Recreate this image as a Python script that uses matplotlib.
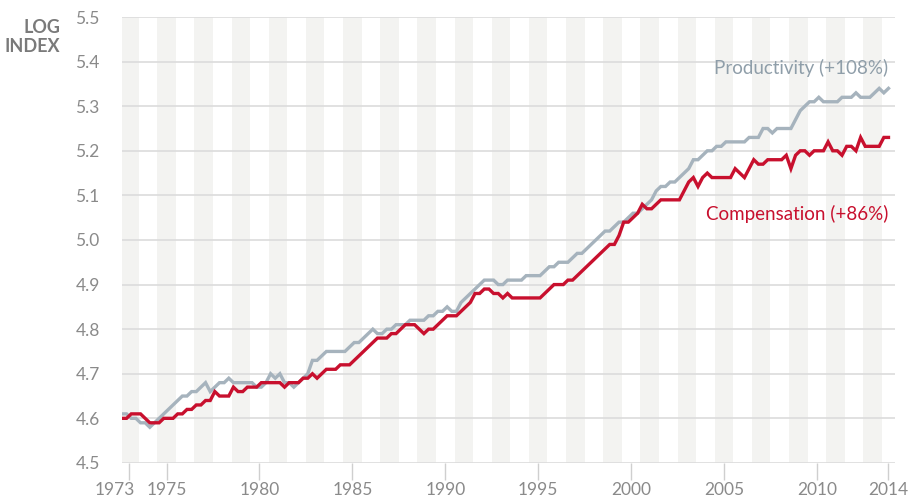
import numpy as np
import matplotlib.pyplot as plt
import matplotlib.transforms as mtransforms

plt.rcParams['font.family'] = ['Lato', 'DejaVu Sans']

# quarterly log index values, first quarter drawn at 1972.6 on the axis
inicio = 1972.6
productividad = [4.61, 4.61, 4.60, 4.60, 4.59, 4.59, 4.58, 4.59, 4.60, 4.61,
                 4.62, 4.63, 4.64, 4.65, 4.65, 4.66, 4.66, 4.67, 4.68, 4.66,
                 4.67, 4.68, 4.68, 4.69, 4.68, 4.68, 4.68, 4.68, 4.68, 4.67,
                 4.67, 4.68, 4.70, 4.69, 4.70, 4.68, 4.68, 4.67, 4.68, 4.69,
                 4.70, 4.73, 4.73, 4.74, 4.75, 4.75, 4.75, 4.75, 4.75, 4.76,
                 4.77, 4.77, 4.78, 4.79, 4.80, 4.79, 4.79, 4.80, 4.80, 4.81,
                 4.81, 4.81, 4.82, 4.82, 4.82, 4.82, 4.83, 4.83, 4.84, 4.84,
                 4.85, 4.84, 4.84, 4.86, 4.87, 4.88, 4.89, 4.90, 4.91, 4.91,
                 4.91, 4.90, 4.90, 4.91, 4.91, 4.91, 4.91, 4.92, 4.92, 4.92,
                 4.92, 4.93, 4.94, 4.94, 4.95, 4.95, 4.95, 4.96, 4.97, 4.97,
                 4.98, 4.99, 5.00, 5.01, 5.02, 5.02, 5.03, 5.04, 5.04, 5.05,
                 5.06, 5.06, 5.07, 5.08, 5.09, 5.11, 5.12, 5.12, 5.13, 5.13,
                 5.14, 5.15, 5.16, 5.18, 5.18, 5.19, 5.20, 5.20, 5.21, 5.21,
                 5.22, 5.22, 5.22, 5.22, 5.22, 5.23, 5.23, 5.23, 5.25, 5.25,
                 5.24, 5.25, 5.25, 5.25, 5.25, 5.27, 5.29, 5.30, 5.31, 5.31,
                 5.32, 5.31, 5.31, 5.31, 5.31, 5.32, 5.32, 5.32, 5.33, 5.32,
                 5.32, 5.32, 5.33, 5.34, 5.33, 5.34]
compensacion = [4.60, 4.60, 4.61, 4.61, 4.61, 4.60, 4.59, 4.59, 4.59, 4.60,
                4.60, 4.60, 4.61, 4.61, 4.62, 4.62, 4.63, 4.63, 4.64, 4.64,
                4.66, 4.65, 4.65, 4.65, 4.67, 4.66, 4.66, 4.67, 4.67, 4.67,
                4.68, 4.68, 4.68, 4.68, 4.68, 4.67, 4.68, 4.68, 4.68, 4.69,
                4.69, 4.70, 4.69, 4.70, 4.71, 4.71, 4.71, 4.72, 4.72, 4.72,
                4.73, 4.74, 4.75, 4.76, 4.77, 4.78, 4.78, 4.78, 4.79, 4.79,
                4.80, 4.81, 4.81, 4.81, 4.80, 4.79, 4.80, 4.80, 4.81, 4.82,
                4.83, 4.83, 4.83, 4.84, 4.85, 4.86, 4.88, 4.88, 4.89, 4.89,
                4.88, 4.88, 4.87, 4.88, 4.87, 4.87, 4.87, 4.87, 4.87, 4.87,
                4.87, 4.88, 4.89, 4.90, 4.90, 4.90, 4.91, 4.91, 4.92, 4.93,
                4.94, 4.95, 4.96, 4.97, 4.98, 4.99, 4.99, 5.01, 5.04, 5.04,
                5.05, 5.06, 5.08, 5.07, 5.07, 5.08, 5.09, 5.09, 5.09, 5.09,
                5.09, 5.11, 5.13, 5.14, 5.12, 5.14, 5.15, 5.14, 5.14, 5.14,
                5.14, 5.14, 5.16, 5.15, 5.14, 5.16, 5.18, 5.17, 5.17, 5.18,
                5.18, 5.18, 5.18, 5.19, 5.16, 5.19, 5.20, 5.20, 5.19, 5.20,
                5.20, 5.20, 5.22, 5.20, 5.20, 5.19, 5.21, 5.21, 5.20, 5.23,
                5.21, 5.21, 5.21, 5.21, 5.23, 5.23]

anios_tick = [1973, 1975, 1980, 1985, 1990, 1995, 2000, 2005, 2010, 2014]
anios_franja = list(range(1973, 2014, 2))
yticks = [4.5, 4.6, 4.7, 4.8, 4.9, 5.0, 5.1, 5.2, 5.3, 5.4, 5.5]

gris = '#a6b3bd'
rojo = '#c8102e'
texto = '#8a8a8a'

x = inicio + 0.25 * np.arange(len(productividad))

fig = plt.figure(figsize=(9.1, 5.01), dpi=100)
ax = fig.add_axes([0.134, 0.076, 0.8495, 0.89])

for a in anios_franja:
    ax.axvspan(a - 0.5, a + 0.5, color='#f3f3f1', lw=0, zorder=0)
for v in yticks:
    ax.axhline(v, color='#dcdcdc', lw=1.2, zorder=1)

ax.plot(x, productividad, color=gris, lw=2.4, zorder=3, solid_joinstyle='miter')
ax.plot(x, compensacion, color=rojo, lw=2.4, zorder=4, solid_joinstyle='miter')

ax.set_xlim(1972.6, 2014.2)
ax.set_ylim(4.5, 5.5)

pos = [a if a < 2014 else x[-1] for a in anios_tick]
ax.set_xticks(pos)
ax.set_xticklabels([str(a) for a in anios_tick])
ax.set_yticks(yticks)
ax.set_yticklabels(['%.1f' % v for v in yticks])
ax.tick_params(axis='x', length=12, width=1, color='#cfcfcf', pad=2,
               labelsize=12.5, labelcolor=texto)
ax.tick_params(axis='y', length=0, pad=16, labelsize=12.5, labelcolor=texto)
for s in ax.spines.values():
    s.set_visible(False)

# 1973 label sits left of its tick so it does not run into 1975
primera = ax.get_xticklabels()[0]
primera.set_transform(primera.get_transform() +
                      mtransforms.ScaledTranslation(-15 / 100, 0, fig.dpi_scale_trans))

ax.text(x[-1], 5.385, 'Productivity (+108%)', color='#8f9ea9', fontsize=13.5,
        ha='right', va='center')
ax.text(x[-1], 5.058, 'Compensation (+86%)', color=rojo, fontsize=13.5,
        ha='right', va='center')
fig.text(0.066, 0.963, 'LOG\nINDEX', color='#7a7a7a', fontsize=13, fontweight='bold',
         ha='right', va='top', linespacing=1.2)

plt.savefig('out.png', dpi=100)
